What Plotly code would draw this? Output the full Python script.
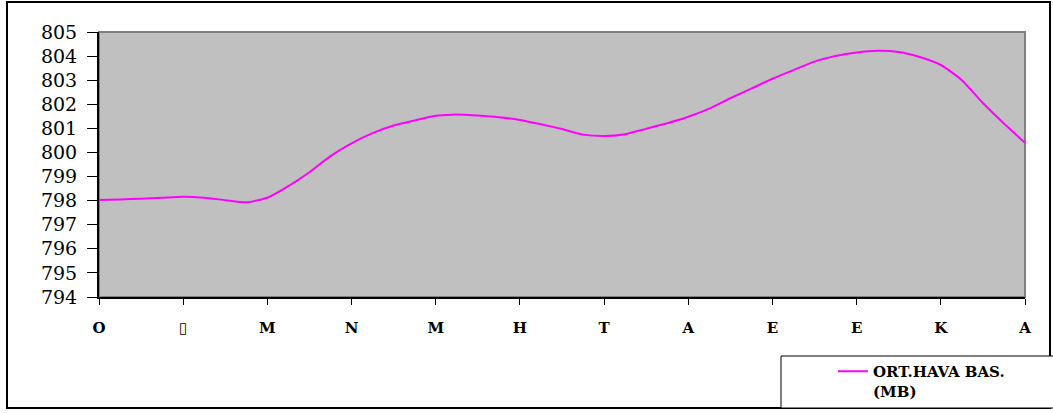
import plotly.graph_objects as go

# Category tick labels (x axis)
categories = ["O", "\u25AF", "M", "N", "M", "H", "T", "A", "E", "E", "K", "A"]

# Positions of the readings along the category axis (quarter-category steps)
x_pos = [k / 4 for k in range(45)]

# Pressure readings (mb)
pressure = [
    798.03, 798.05, 798.08, 798.12, 798.16, 798.12, 798.02, 797.93, 798.12,
    798.60, 799.18, 799.85, 800.38, 800.80, 801.12, 801.33, 801.52, 801.58,
    801.53, 801.46, 801.35, 801.17, 800.97, 800.74, 800.68, 800.76, 800.98,
    801.21, 801.48, 801.82, 802.25, 802.65, 803.06, 803.42, 803.77, 804.00,
    804.15, 804.22, 804.17, 803.96, 803.63, 803.00, 802.05, 801.20, 800.40,
]

series_name = "<b>ORT.HAVA BAS.<br>(MB)</b>"

W, H = 1053, 413
L, R, T, B = 99, 28, 32, 116
pw, ph = W - L - R, H - T - B


def px(x):
    return (x - L) / pw


def py(y):
    return (H - B - y) / ph


fig = go.Figure()
fig.add_trace(go.Scatter(
    x=x_pos, y=pressure, mode="lines", name=series_name,
    line=dict(color="#FF00FF", width=2, shape="spline", smoothing=0.6),
    showlegend=True,
))

shapes = [
    # outer frame
    dict(type="rect", xref="paper", yref="paper",
         x0=px(7), x1=px(1050), y0=py(408), y1=py(2),
         line=dict(color="black", width=2), fillcolor="rgba(0,0,0,0)", layer="below"),
    # plot area border (grey)
    dict(type="rect", xref="paper", yref="paper",
         x0=0, x1=1, y0=0, y1=1,
         line=dict(color="#808080", width=2), fillcolor="rgba(0,0,0,0)", layer="below"),
    # legend box
    dict(type="rect", xref="paper", yref="paper",
         x0=px(781), x1=px(1060), y0=py(408), y1=py(356),
         line=dict(color="black", width=1), fillcolor="white", layer="below"),
]

fig.update_layout(
    width=W, height=H, autosize=False,
    margin=dict(l=L, r=R, t=T, b=B, autoexpand=False),
    paper_bgcolor="white",
    plot_bgcolor="#C0C0C0",
    shapes=shapes,
    showlegend=True,
    legend=dict(
        x=px(833), y=py(355), xanchor="left", yanchor="top",
        bgcolor="rgba(0,0,0,0)", borderwidth=0, valign="top",
        font=dict(family="DejaVu Serif", size=15, color="black"),
        itemwidth=30,
    ),
    font=dict(family="DejaVu Serif", color="black"),
)

fig.update_xaxes(
    range=[0, 11],
    tickmode="array",
    tickvals=list(range(len(categories))),
    ticktext=["<b>%s</b>" % c for c in categories],
    tickfont=dict(family="DejaVu Serif", size=15, color="black"),
    ticks="outside", ticklen=6, tickcolor="black", tickwidth=1,
    showline=True, linecolor="black", linewidth=2,
    showgrid=False, zeroline=False, automargin=False,
    ticklabelstandoff=10,
)

fig.update_yaxes(
    range=[794, 805],
    dtick=1, tick0=794,
    tickfont=dict(family="DejaVu Serif", size=19, color="black"),
    ticks="outside", ticklen=10, tickcolor="black", tickwidth=1,
    showline=True, linecolor="black", linewidth=2,
    showgrid=False, zeroline=False, automargin=False,
    ticklabelstandoff=6,
)

fig.write_html(
    "out.html",
    config={"displayModeBar": False},
    post_script="document.body.style.margin='0';",
)
